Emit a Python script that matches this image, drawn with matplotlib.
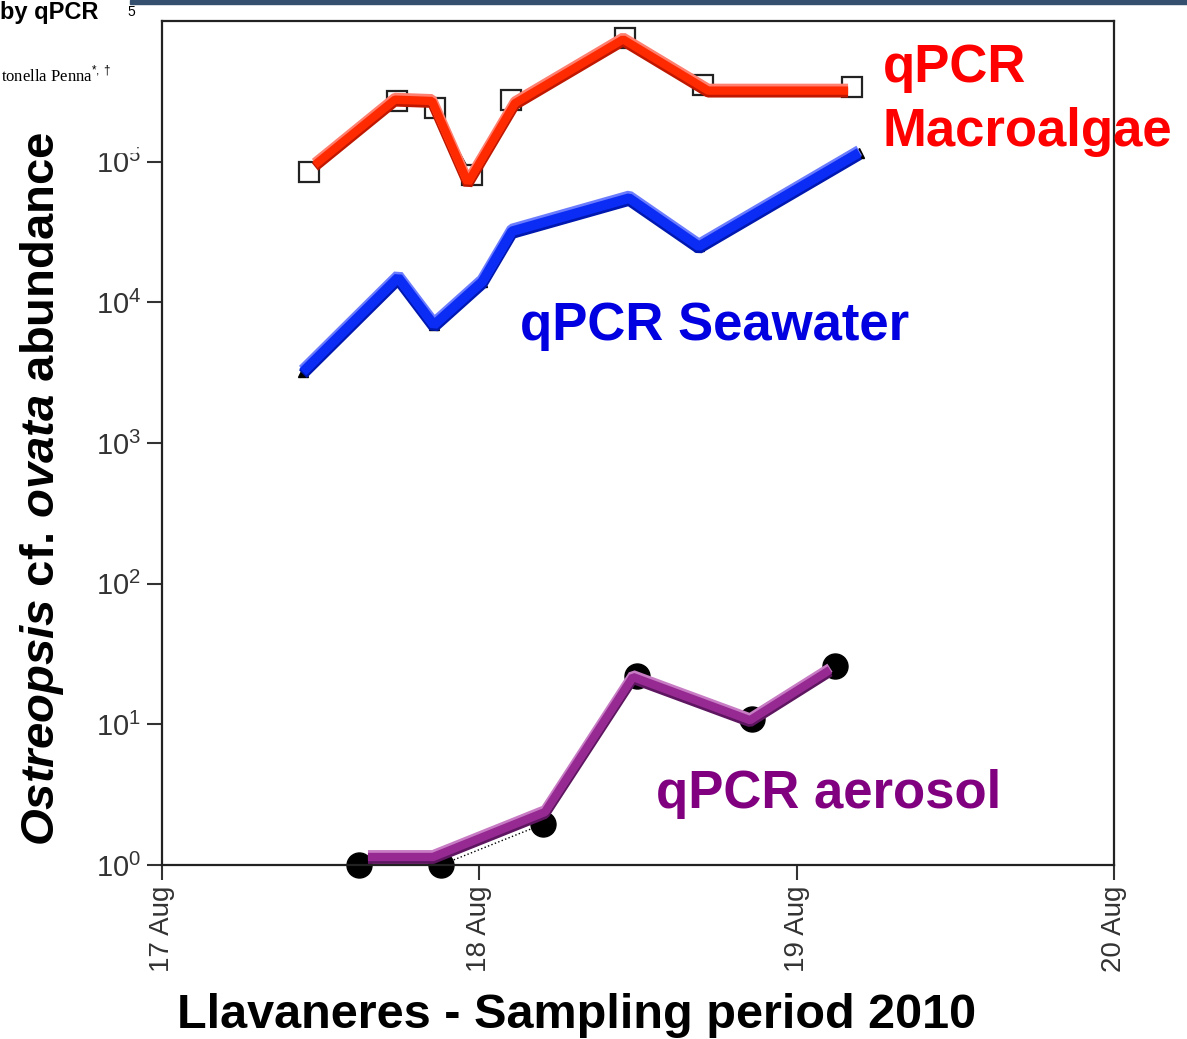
import matplotlib
matplotlib.use('Agg')
import matplotlib.pyplot as plt
import matplotlib.patheffects as pe
from matplotlib.patches import Rectangle

plt.rcParams['font.family'] = ['Liberation Sans', 'DejaVu Sans']
plt.rcParams['mathtext.fontset'] = 'custom'
plt.rcParams['mathtext.rm'] = 'Liberation Sans'
plt.rcParams['mathtext.bfit'] = 'Liberation Sans:italic:bold'

# Sampling times (day of August 2010) and abundances
macro_day = [17.463, 17.741, 17.86, 17.977, 18.10, 18.459, 18.705, 19.175]
macro_val = [8.5e4, 2.7e5, 2.4e5, 8.0e4, 2.75e5, 7.6e5, 3.5e5, 3.4e5]
# hand-drawn highlight over the macroalgae series
macro_hl_day = [17.482, 17.734, 17.851, 17.964, 18.112, 18.453, 18.721, 19.162]
macro_hl_val = [9.5e4, 2.76e5, 2.7e5, 7.1e4, 2.6e5, 7.4e5, 3.2e5, 3.2e5]

sea_day = [17.444, 17.744, 17.857, 18.009, 18.103, 18.472, 18.692, 19.197]
sea_val = [3.2e3, 1.5e4, 6.9e3, 1.4e4, 3.2e4, 5.5e4, 2.5e4, 1.16e5]

aero_day = [17.621, 17.879, 18.20, 18.497, 18.86, 19.12]
aero_val = [1.0, 1.0, 1.95, 22, 11, 26]
aero_hl_day = [17.649, 17.854, 18.207, 18.484, 18.853, 19.105]
aero_hl_val = [1.14, 1.14, 2.38, 21.7, 10.7, 24.4]

x_ticks = [17, 18, 19, 20]
x_labels = ['17 Aug', '18 Aug', '19 Aug', '20 Aug']
y_ticks = [1, 10, 100, 1e3, 1e4, 1e5]
y_labels = ['$10^0$', '$10^1$', '$10^2$', '$10^3$', '$10^4$', '$10^5$']

W, H = 1187, 1039
fig = plt.figure(figsize=(W / 100, H / 100), dpi=100)
ax = fig.add_axes([162 / W, 1 - 865 / H, (1114 - 162) / W, (865 - 21) / H])
ax.set_yscale('log')
ax.set_ylim(1, 1e6)
ax.set_xlim(17, 20)


def bevel(light, dark, w):
    # fake 3D look of the drawn-over lines
    return [pe.Stroke(offset=(0, -1.5), linewidth=w, foreground=dark),
            pe.Stroke(offset=(0, 1.5), linewidth=w, foreground=light),
            pe.Normal()]


# original data with black markers
ax.plot(macro_day, macro_val, color='black', lw=1, marker='s', ms=14,
        mfc='white', mec='#222222', mew=1.6, zorder=2, clip_on=False)
ax.plot(sea_day, sea_val, color='black', lw=1, marker='^', ms=7,
        mfc='black', mec='black', zorder=2)
ax.plot(aero_day, aero_val, color='black', lw=1, ls=':', marker='o', ms=18,
        mfc='black', mec='black', zorder=2, clip_on=False)

# coloured highlights
ax.plot(macro_hl_day, macro_hl_val, color='#ff2a00', lw=6,
        solid_capstyle='butt', solid_joinstyle='bevel', zorder=3,
        path_effects=bevel('#ff8070', '#c01800', 7))
ax.plot(sea_day, sea_val, color='#0a2cf5', lw=7,
        solid_capstyle='butt', solid_joinstyle='bevel', zorder=3,
        path_effects=bevel('#6b7cff', '#0018b0', 8))
ax.plot(aero_hl_day, aero_hl_val, color='#962a92', lw=6,
        solid_capstyle='butt', solid_joinstyle='bevel', zorder=3,
        path_effects=bevel('#c77cc4', '#5e1660', 7))

ax.text(19.272, 10 ** 5.569, 'qPCR', color='#ff0000', fontsize=38,
        fontweight='bold', va='baseline')
ax.text(19.272, 10 ** 5.114, 'Macroalgae', color='#ff0000', fontsize=38,
        fontweight='bold', va='baseline')
ax.text(18.128, 10 ** 3.734, 'qPCR Seawater', color='#0000e0', fontsize=38,
        fontweight='bold', va='baseline')
ax.text(18.557, 10 ** 0.405, 'qPCR aerosol', color='#800080', fontsize=38,
        fontweight='bold', va='baseline')

ax.set_xticks(x_ticks)
ax.set_xticklabels(x_labels, rotation=90, fontsize=20, color='#333333')
ax.set_yticks(y_ticks)
ax.set_yticklabels(y_labels, fontsize=21, color='#333333')
ax.minorticks_off()
ax.tick_params(direction='out', length=11, width=1.5, color='#333333', pad=4)
for s in ax.spines.values():
    s.set_linewidth(1.6)
    s.set_color('#222222')

fig.text(42 / W, 1 - 489 / H,
         r'$\mathbfit{Ostreopsis}$ cf. $\mathbfit{ovata}$ abundance',
         rotation=90, ha='center', va='center', fontsize=34, fontweight='bold')
fig.text(577 / W, 1 - 1015 / H, 'Llavaneres - Sampling period 2010',
         ha='center', va='center', fontsize=35, fontweight='bold')

# pieces of the surrounding slide
fig.patches.append(Rectangle((130 / W, 1 - 4 / H), 1 - 130 / W, 4 / H,
                             transform=fig.transFigure, color='#34506e'))
fig.patches.append(Rectangle((88 / W, 1 - 152 / H), 48 / W, 26 / H,
                             transform=fig.transFigure, color='white', zorder=5))
fig.text(0, 1 - 12 / H, 'by qPCR', fontsize=17, fontweight='bold',
         va='center', ha='left')
fig.text(0.001, 1 - 75 / H, 'tonella Penna$^{*,\\dagger}$', fontsize=12,
         family='Liberation Serif', va='center', ha='left')
fig.text(127 / W, 1 - 12 / H, '5', fontsize=10, va='center', ha='left')

fig.savefig('out.png', dpi=100)
